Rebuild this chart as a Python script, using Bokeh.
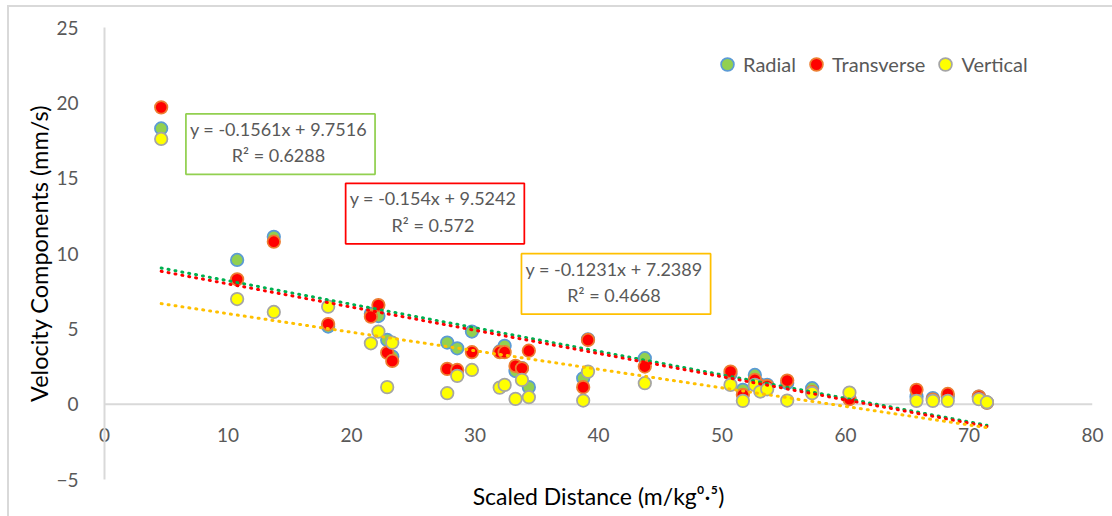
from bokeh.plotting import figure
from bokeh.models import Label, Legend, LegendItem, Range1d, FixedTicker, Span, InlineStyleSheet
from bokeh.embed import file_html
from bokeh.resources import INLINE

# ---------------- data ----------------
distance = [4.59, 10.74, 13.71, 18.11, 21.57, 22.18, 22.89, 23.30, 27.75, 28.56,
            29.75, 32.00, 32.40, 33.28, 33.80, 34.36, 38.76, 39.15, 43.75, 50.69,
            51.69, 52.66, 53.10, 53.66, 55.28, 57.30, 60.32, 65.75, 67.07, 68.28,
            70.80, 71.45]
radial = [18.3, 9.57, 11.11, 5.15, 6.0, 5.85, 4.26, 3.16, 4.09, 3.71,
          4.82, 3.5, 3.87, 2.2, 2.4, 1.13, 1.72, 4.3, 3.05, 2.0,
          0.95, 1.94, 1.3, 1.28, 1.4, 1.06, 0.4, 0.5, 0.4, 0.5,
          0.5, 0.1]
transverse = [19.7, 8.29, 10.78, 5.32, 5.81, 6.58, 3.42, 2.87, 2.34, 2.27,
              3.45, 3.45, 3.45, 2.54, 2.38, 3.55, 1.13, 4.26, 2.5, 2.16,
              0.62, 1.61, 1.2, 1.2, 1.57, 0.8, 0.33, 0.95, 0.3, 0.68,
              0.5, 0.1]
vertical = [17.6, 6.98, 6.12, 6.47, 4.04, 4.82, 1.13, 4.08, 0.73, 1.88,
            2.27, 1.1, 1.28, 0.35, 1.61, 0.46, 0.24, 2.16, 1.39, 1.28,
            0.22, 1.28, 0.84, 0.99, 0.24, 0.73, 0.77, 0.22, 0.22, 0.22,
            0.33, 0.13]
series_names = ["Radial", "Transverse", "Vertical"]
trend_slopes = [-0.1561, -0.154, -0.1231]
trend_intercepts = [9.7516, 9.5242, 7.2389]
trend_r2 = ["0.6288", "0.572", "0.4668"]
x_ticks = [0, 10, 20, 30, 40, 50, 60, 70, 80]
y_ticks = [-5, 0, 5, 10, 15, 20, 25]
x_title = "Scaled Distance (m/kg\u2070\u00b7\u2075)"
y_title = "Velocity Components (mm/s)"

# ---------------- style ----------------
FONT = "Lato"
TXT = "#595959"
AXIS = "#D9D9D9"
fills = ["#92D050", "#FF0000", "#FFFF00"]
edges = ["#5B9BD5", "#ED7D31", "#A5A5A5"]
trend_colors = ["#00B050", "#FF0000", "#FFC000"]
box_colors = ["#92D050", "#FF0000", "#FFC000"]
box_pos = [(14.25, 17.26), (26.76, 12.65), (41.42, 7.98)]

chart_border = InlineStyleSheet(css="""
:host { position: relative; }
:host::after {
  content: ""; position: absolute; left: 7px; top: 5px; right: -20px; bottom: -20px;
  border-top: 2px solid #D9D9D9; border-left: 2px solid #D9D9D9;
  pointer-events: none;
}
""")

p = figure(width=1104, height=512, output_backend="svg", toolbar_location=None,
           x_range=Range1d(x_ticks[0], x_ticks[-1]), y_range=Range1d(y_ticks[0], y_ticks[-1]),
           min_border_left=104, min_border_right=12, min_border_top=27, min_border_bottom=32,
           stylesheets=[chart_border])
p.background_fill_color = "white"
p.border_fill_color = "white"
p.outline_line_color = None
p.xgrid.visible = False
p.ygrid.visible = False

# axes
p.xaxis.ticker = FixedTicker(ticks=x_ticks)
p.yaxis.ticker = FixedTicker(ticks=y_ticks)
for ax in (p.xaxis[0], p.yaxis[0]):
    ax.axis_line_color = AXIS
    ax.axis_line_width = 2
    ax.major_tick_line_color = None
    ax.minor_tick_line_color = None
    ax.major_label_text_font = FONT
    ax.major_label_text_font_size = "19px"
    ax.major_label_text_color = TXT
    ax.axis_label_text_font = FONT
    ax.axis_label_text_font_style = "normal"
    ax.axis_label_text_color = "#000000"
p.xaxis.axis_line_color = None
p.xaxis.major_label_standoff = -58
p.xaxis.axis_label = x_title
p.xaxis.axis_label_text_font_size = "23px"
p.xaxis.axis_label_standoff = 37
p.yaxis.major_label_standoff = 20
p.yaxis.major_label_text_align = "right"
p.yaxis.axis_label = y_title
p.yaxis.axis_label_text_font_size = "23.5px"
p.yaxis.axis_label_standoff = 0

# zero line (horizontal axis line crossing at y = 0)
p.add_layout(Span(location=0, dimension="width", line_color=AXIS, line_width=2, level="underlay"))

# scatter series
renderers = []
for ys, f, e in zip([radial, transverse, vertical], fills, edges):
    r = p.scatter(distance, ys, marker="circle", size=12.5, fill_color=f,
                  line_color=e, line_width=1.75)
    renderers.append(r)

# trend lines
xs = [min(distance), max(distance)]
for s, b, c in zip(trend_slopes, trend_intercepts, trend_colors):
    p.line(xs, [s * x + b for x in xs], line_color=c, line_width=3,
           line_dash="1 6", line_cap="round")

# equation boxes
for s, b, r2, c, (bx, by) in zip(trend_slopes, trend_intercepts, trend_r2, box_colors, box_pos):
    p.add_layout(Label(x=bx, y=by, text=f"y = {s}x + {b}\nR\u00b2 = {r2}",
                       text_align="center", text_baseline="middle",
                       text_font=FONT, text_font_size="18px", text_color=TXT,
                       text_line_height=1.2,
                       background_fill_color="white",
                       border_line_color=c, border_line_width=1.75,
                       padding=(4, 8, 4, 8)))

# legend
legend = Legend(items=[LegendItem(label=n, renderers=[r]) for n, r in zip(series_names, renderers)],
                orientation="horizontal", location=(607, 399),
                border_line_color=None, background_fill_alpha=0,
                label_text_font=FONT, label_text_font_size="20px", label_text_color=TXT,
                glyph_width=32, glyph_height=32, label_standoff=0, spacing=4,
                padding=0, margin=0)
p.add_layout(legend)

open("out.html", "w").write(file_html(p, INLINE))
